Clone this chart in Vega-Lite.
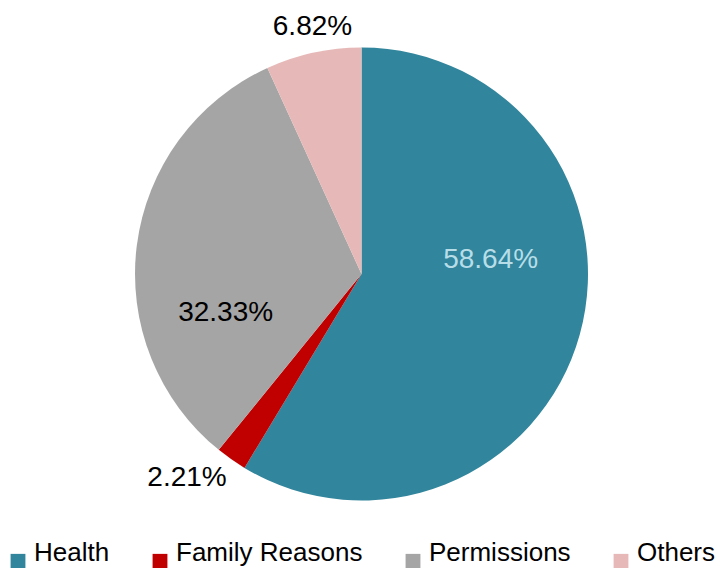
{
  "$schema": "https://vega.github.io/schema/vega-lite/v6.json",
  "width": 723,
  "height": 548,
  "autosize": {"type": "none"},
  "padding": {"left": 0, "top": 0, "right": 0, "bottom": 20},
  "background": "white",
  "config": {"view": {"stroke": null}, "font": "Liberation Sans"},
  "data": {
    "values": [
      {"cat": "Health", "value": 0.5864, "ord": 1},
      {"cat": "Family Reasons", "value": 0.0221, "ord": 2},
      {"cat": "Permissions", "value": 0.3233, "ord": 3},
      {"cat": "Others", "value": 0.0682, "ord": 4}
    ]
  },
  "encoding": {
    "theta": {"field": "value", "type": "quantitative", "stack": true},
    "order": {"field": "ord", "type": "quantitative"}
  },
  "layer": [
    {
      "mark": {"type": "arc", "outerRadius": 226.5},
      "encoding": {
        "color": {
          "field": "cat",
          "type": "nominal",
          "scale": {
            "domain": ["Health", "Family Reasons", "Permissions", "Others"],
            "range": ["#31859C", "#C00000", "#A5A5A5", "#E6B9B8"]
          },
          "legend": {
            "title": null,
            "orient": "none",
            "direction": "horizontal",
            "legendX": 5,
            "legendY": 548,
            "padding": 0,
            "symbolType": "square",
            "symbolSize": 220,
            "symbolStrokeWidth": 0,
            "symbolOpacity": 1,
            "labelFont": "Liberation Sans",
            "labelFontSize": 26,
            "labelColor": "black",
            "labelBaseline": "alphabetic",
            "labelOffset": 3,
            "labelLimit": 400,
            "columnPadding": 37
          }
        }
      }
    },
    {
      "mark": {"type": "text", "radius": 133, "dx": 1, "dy": -50, "fontSize": 28, "font": "Liberation Sans", "color": "#B7DEE8"},
      "encoding": {
        "detail": {"field": "cat", "type": "nominal"},
        "text": {"condition": {"test": "datum.cat === 'Health'", "field": "value", "type": "quantitative", "format": ".2%"}, "value": ""}
      }
    },
    {
      "mark": {"type": "text", "radius": 260, "dx": -25, "dy": -9, "fontSize": 28, "font": "Liberation Sans", "color": "black"},
      "encoding": {
        "detail": {"field": "cat", "type": "nominal"},
        "text": {"condition": {"test": "datum.cat === 'Family Reasons'", "field": "value", "type": "quantitative", "format": ".2%"}, "value": ""}
      }
    },
    {
      "mark": {"type": "text", "radius": 140, "dx": 3, "dy": 57, "fontSize": 28, "font": "Liberation Sans", "color": "black"},
      "encoding": {
        "detail": {"field": "cat", "type": "nominal"},
        "text": {"condition": {"test": "datum.cat === 'Permissions'", "field": "value", "type": "quantitative", "format": ".2%"}, "value": ""}
      }
    },
    {
      "mark": {"type": "text", "radius": 254, "dx": 5, "dy": 1, "fontSize": 28, "font": "Liberation Sans", "color": "black"},
      "encoding": {
        "detail": {"field": "cat", "type": "nominal"},
        "text": {"condition": {"test": "datum.cat === 'Others'", "field": "value", "type": "quantitative", "format": ".2%"}, "value": ""}
      }
    }
  ]
}
